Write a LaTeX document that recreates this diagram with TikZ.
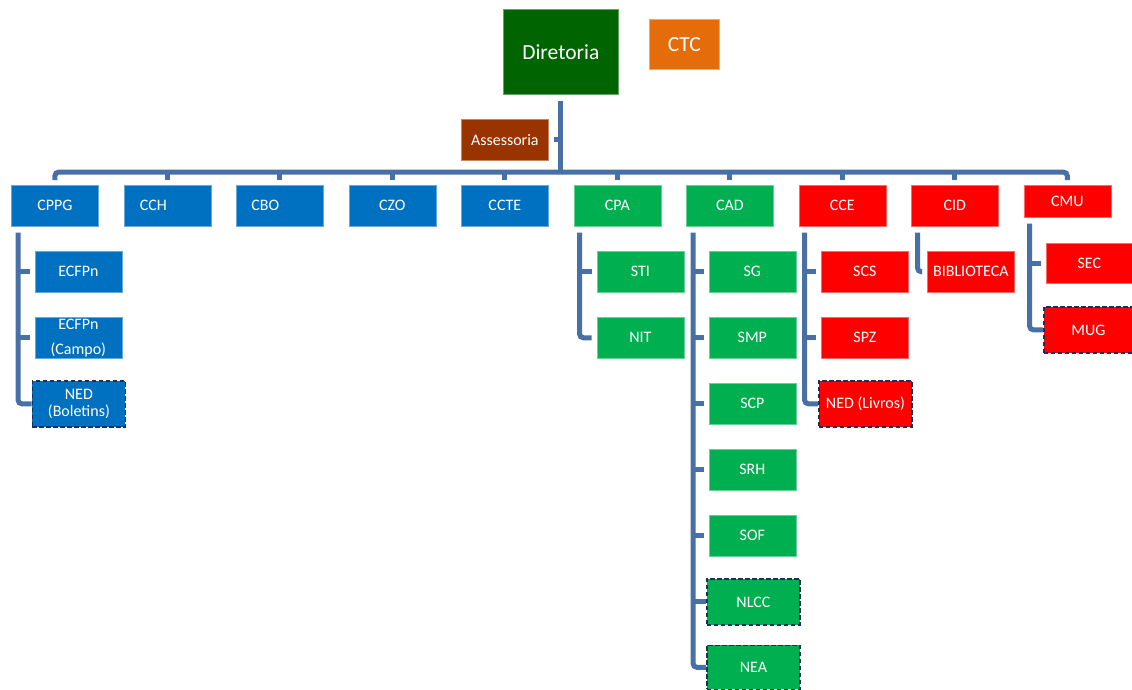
\documentclass[tikz,border=0pt]{standalone}
\usepackage{fontspec}
\setmainfont{Carlito}
\definecolor{cblue}{RGB}{0,112,192}
\definecolor{cgreen}{RGB}{0,176,80}
\definecolor{cred}{RGB}{255,0,0}
\definecolor{cdgreen}{RGB}{0,100,0}
\definecolor{corange}{RGB}{228,108,10}
\definecolor{cbrown}{RGB}{153,51,0}
\definecolor{cline}{RGB}{72,112,166}
\definecolor{cnavy}{RGB}{28,48,86}
\begin{document}
\begin{tikzpicture}[x=1pt,y=-1pt,
  box/.style={fill=#1, draw=#1!60!white, line width=0.7pt, text=white, inner sep=0pt,
    anchor=north west, minimum width=87pt, minimum height=41pt,
    font=\fontsize{16}{18}\selectfont, align=center},
  dbox/.style={box=#1, draw=cnavy, dash pattern=on 4.5pt off 2.5pt, line width=1.8pt,
    minimum width=93pt, minimum height=46pt},
  conn/.style={draw=cline, line width=5pt, rounded corners=4pt},
  big/.style={font=\fontsize{21.5}{24}\selectfont}]
\useasboundingbox (0,0) rectangle (1132,690);

% top
\node[box=cdgreen, big, minimum width=115pt, minimum height=85pt] (dir) at (503,9) {Diretoria};
\node[box=corange, big, minimum width=70pt, minimum height=50pt] (ctc) at (649,19) {CTC};
\node[box=cbrown] (ass) at (461,119) {Assessoria};

% first level
\node[box=cblue] (cppg) at (11,185) {CPPG};
\node[box=cblue, text width=87pt, align=left] (cch) at (123.5,185) {\hspace*{16pt}CCH};
\node[box=cblue, text width=87pt, align=left] (cbo) at (236,185) {\hspace*{15pt}CBO};
\node[box=cblue] (czo) at (348.5,185) {CZO};
\node[box=cblue] (ccte) at (461,185) {CCTE};
\node[box=cgreen] (cpa) at (573.5,185) {CPA};
\node[box=cgreen] (cad) at (686,185) {CAD};
\node[box=cred] (cce) at (798.5,185) {CCE};
\node[box=cred] (cid) at (911,185) {CID};
\node[box=cred, minimum height=32pt] (cmu) at (1023.5,185) {CMU};

% CPPG children
\node[box=cblue] (ecf1) at (34.5,251) {ECFPn};
\node[box=cblue, font=\fontsize{16}{25}\selectfont] (ecf2) at (34.5,317) {ECFPn\\(Campo)};
\node[dbox=cblue, font=\fontsize{16}{17}\selectfont] (ned1) at (31.5,380) {NED\\(Boletins)};

% CPA children
\node[box=cgreen] (sti) at (596.5,251) {STI};
\node[box=cgreen] (nit) at (596.5,317) {NIT};

% CAD children
\node[box=cgreen] (sg) at (708.5,251) {SG};
\node[box=cgreen] (smp) at (708.5,317) {SMP};
\node[box=cgreen] (scp) at (708.5,383) {SCP};
\node[box=cgreen] (srh) at (708.5,449) {SRH};
\node[box=cgreen] (sof) at (708.5,515) {SOF};
\node[dbox=cgreen] (nlcc) at (706,578) {NLCC};
\node[dbox=cgreen, minimum height=44pt] (nea) at (706,644.5) {NEA};

% CCE children
\node[box=cred] (scs) at (821,251) {SCS};
\node[box=cred] (spz) at (821,317) {SPZ};
\node[dbox=cred] (ned2) at (818,380) {NED (Livros)};

% CID children
\node[box=cred] (bib) at (927,251) {BIBLIOTECA};

% CMU children
\node[box=cred, minimum width=86pt, minimum height=40pt] (sec) at (1046,243) {SEC};
\node[dbox=cred, minimum width=89pt] (mug) at (1043,306) {MUG};

% connectors: top
\coordinate (bus) at (0,172);
\draw[conn] ([yshift=-6pt]dir.south) -- (dir.south |- bus);
\draw[conn] ([yshift=5pt]cppg.north) |- (bus -| cmu.north) -- ([yshift=5pt]cmu.north);
\foreach \n in {cch,cbo,czo,ccte,cpa,cad,cce,cid}
  \draw[conn] (\n.north |- bus) -- ([yshift=5pt]\n.north);
\draw[conn] ([xshift=5pt]ass.east) -- (ass.east -| dir.south);

% CPPG
\coordinate (cppgL) at ([xshift=7pt,yshift=-6pt]cppg.south west);
\draw[conn] (cppgL) |- (ned1.west);
\foreach \c in {ecf1,ecf2}
  \draw[conn] (cppgL |- \c.west) -- ([xshift=-5pt]\c.west);

% CPA
\coordinate (cpaL) at ([xshift=6pt,yshift=-6pt]cpa.south west);
\draw[conn] (cpaL) |- ([xshift=-5pt]nit.west);
\draw[conn] (cpaL |- sti.west) -- ([xshift=-5pt]sti.west);

% CAD
\coordinate (cadL) at ([xshift=7pt,yshift=-6pt]cad.south west);
\draw[conn] (cadL) |- (nea.west);
\foreach \c in {sg,smp,scp,srh,sof}
  \draw[conn] (cadL |- \c.west) -- ([xshift=-5pt]\c.west);
\draw[conn] (cadL |- nlcc.west) -- (nlcc.west);

% CCE
\coordinate (cceL) at ([xshift=6pt,yshift=-6pt]cce.south west);
\draw[conn] (cceL) |- (ned2.west);
\foreach \c in {scs,spz}
  \draw[conn] (cceL |- \c.west) -- ([xshift=-5pt]\c.west);

% CID
\coordinate (cidL) at ([xshift=6.5pt,yshift=-6pt]cid.south west);
\draw[conn] (cidL) |- ([xshift=-5pt]bib.west);

% CMU
\coordinate (cmuL) at ([xshift=6pt,yshift=-6pt]cmu.south west);
\draw[conn] (cmuL) |- (mug.west);
\draw[conn] (cmuL |- sec.west) -- ([xshift=-5pt]sec.west);
\end{tikzpicture}
\end{document}
